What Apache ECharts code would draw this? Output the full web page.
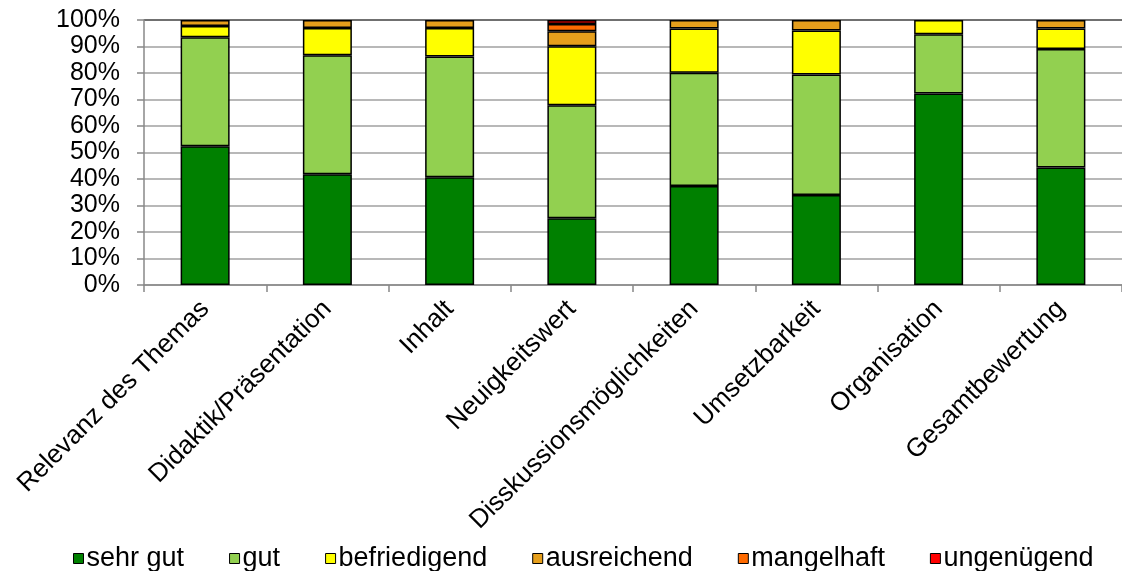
<!DOCTYPE html>
<html>
<head>
<meta charset="utf-8">
<script src="https://cdn.jsdelivr.net/npm/echarts@6/dist/echarts.min.js"></script>
<style>
  html, body { margin: 0; padding: 0; background: #fff; }
  #chart { width: 1122px; height: 571px; }
</style>
</head>
<body>
<div id="chart"></div>
<script>
// Evaluation results per criterion, stacked shares in percent (null = no answers)
const categories = ['Relevanz des Themas', 'Didaktik/Präsentation', 'Inhalt', 'Neuigkeitswert',
  'Disskussionsmöglichkeiten', 'Umsetzbarkeit', 'Organisation', 'Gesamtbewertung'];
const sehrGut      = [52.4, 41.8, 40.7, 25.2, 37.4, 34.0, 72.3, 44.3];
const gut          = [41.1, 44.9, 45.5, 42.6, 42.7, 45.4, 22.3, 44.8];
const befriedigend = [ 4.2, 10.3, 10.8, 22.3, 16.7, 16.6,  5.4,  7.7];
const ausreichend  = [ 2.3,  3.0,  3.0,  5.7,  3.2,  4.0, null,  3.2];
const mangelhaft   = [null, null, null,  2.7, null, null, null, null];
const ungenuegend  = [null, null, null,  1.5, null, null, null, null];
const yTicks = ['0%', '10%', '20%', '30%', '40%', '50%', '60%', '70%', '80%', '90%', '100%'];

const seriesDefs = [
  { name: 'sehr gut', data: sehrGut, color: '#008000' },
  { name: 'gut', data: gut, color: '#92D050' },
  { name: 'befriedigend', data: befriedigend, color: '#FFFF00' },
  { name: 'ausreichend', data: ausreichend, color: '#E69F1C' },
  { name: 'mangelhaft', data: mangelhaft, color: '#FF6A00' },
  { name: 'ungenügend', data: ungenuegend, color: '#FF0000' }
];

const FONT = 'Liberation Sans, Arial, sans-serif';
const chart = echarts.init(document.getElementById('chart'), null, { renderer: 'canvas' });

// light grey grid, darker line on top at 100 %
const gridColors = yTicks.map((t, i) => i === yTicks.length - 1 ? '#404040' : '#a0a0a0');

chart.setOption({
  animation: false,
  backgroundColor: '#fff',
  grid: { left: 144, top: 20, width: 987, bottom: 286 },
  legend: {
    top: 540,
    left: 68,
    itemWidth: 10,
    itemHeight: 10,
    itemGap: 45,
    icon: 'rect',
    textStyle: { fontFamily: FONT, fontSize: 27, color: '#000', padding: [0, 0, 0, -2] },
    data: seriesDefs.map(s => ({ name: s.name, itemStyle: { borderColor: '#000', borderWidth: 1 } }))
  },
  xAxis: {
    type: 'category',
    data: categories,
    axisLine: { lineStyle: { color: '#888', width: 1.5 } },
    axisTick: { show: true, length: 7, lineStyle: { color: '#888', width: 1.5 } },
    axisLabel: {
      interval: 0, rotate: 45, fontFamily: FONT, fontSize: 26, color: '#000', margin: 20
    }
  },
  yAxis: {
    type: 'value',
    min: 0, max: 100, interval: 10,
    axisLine: { show: true, lineStyle: { color: '#888', width: 1.5 } },
    axisTick: { show: true, length: 7, lineStyle: { color: '#888', width: 1.5 } },
    axisLabel: {
      fontFamily: FONT, fontSize: 25, color: '#000', margin: 24,
      formatter: v => yTicks[Math.round(v / 10)]
    },
    splitLine: { show: true, lineStyle: { color: gridColors, width: 1.5 } }
  },
  series: seriesDefs.map(s => ({
    name: s.name,
    type: 'bar',
    stack: 'total',
    barWidth: 49,
    data: s.data,
    itemStyle: { color: s.color, borderColor: '#000', borderWidth: 1.5 }
  }))
});
</script>
</body>
</html>
